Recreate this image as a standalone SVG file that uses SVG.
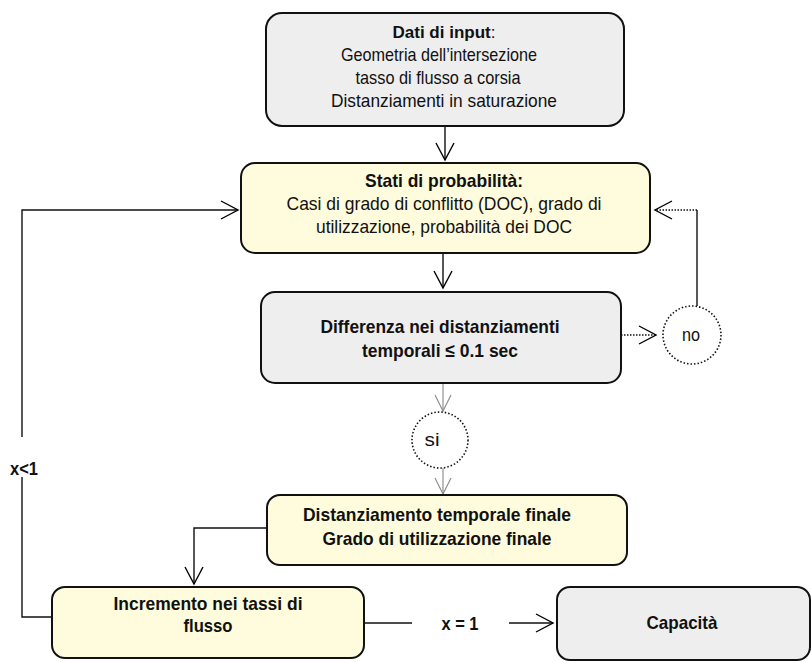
<svg xmlns="http://www.w3.org/2000/svg" width="811" height="662" viewBox="0 0 811 662">
<defs>
<marker id="ah" viewBox="0 0 20 20" refX="18" refY="10" markerWidth="20" markerHeight="20" markerUnits="userSpaceOnUse" orient="auto">
<path d="M1,1 L18,10 L1,19" fill="none" stroke="#000" stroke-width="1.4"/>
</marker>
<marker id="ahg" viewBox="0 0 20 20" refX="18" refY="10" markerWidth="20" markerHeight="20" markerUnits="userSpaceOnUse" orient="auto">
<path d="M2,2 L18,10 L2,18" fill="none" stroke="#888" stroke-width="1.1"/>
</marker>
</defs>
<style>
.box{stroke:#111;stroke-width:2}
.grey{fill:#eeeeee}
.yel{fill:#fefcdc}
text{font-family:"Liberation Sans",Arial,sans-serif;font-size:19px;fill:#111;text-anchor:middle}
.b{font-weight:bold}
.ln{fill:none;stroke:#111;stroke-width:1.4}
.gl{fill:none;stroke:#888;stroke-width:1.1}
.dt{fill:none;stroke:#111;stroke-width:1.6;stroke-dasharray:1.5 1.5}
.circ{fill:#fff;stroke:#111;stroke-width:1.6;stroke-dasharray:1.5 2}
</style>
<g id="connectors">
<path class="ln" d="M445,126 V160" marker-end="url(#ah)"/>
<path class="ln" d="M443,253 V288" marker-end="url(#ah)"/>
<path class="gl" d="M443,383 V411" marker-end="url(#ahg)"/>
<path class="gl" d="M443,468 V494" marker-end="url(#ahg)"/>
<path class="dt" d="M621,335 H656" marker-end="url(#ah)"/>
<path class="ln" d="M697,306 V210" stroke="#444"/>
<path class="dt" d="M697,210 H655" marker-end="url(#ah)"/>
<path class="ln" d="M267,528 H194 V584" marker-end="url(#ah)"/>
<path class="ln" d="M52,617 H22 V477"/>
<path class="ln" d="M22,437 V210 H238" marker-end="url(#ah)"/>
<path class="ln" d="M364,623 H412"/>
<path class="ln" d="M509,623 H553" marker-end="url(#ah)"/>
<text class="b" x="24" y="475" textLength="28" lengthAdjust="spacingAndGlyphs">x&lt;1</text>
<text class="b" x="460" y="630" textLength="37" lengthAdjust="spacingAndGlyphs">x = 1</text>
</g>
<g id="input">
<rect class="box grey" x="266" y="13" width="358" height="113" rx="16"/>
<text x="444" y="38" style="font-size:17px"><tspan class="b">Dati di input</tspan>:</text>
<text x="439" y="61" textLength="196" lengthAdjust="spacingAndGlyphs">Geometria dell’intersezione</text>
<text x="438" y="84" textLength="165" lengthAdjust="spacingAndGlyphs">tasso di flusso a corsia</text>
<text x="444" y="107" textLength="226" lengthAdjust="spacingAndGlyphs">Distanziamenti in saturazione</text>
</g>
<g id="stati">
<rect class="box yel" x="241" y="163" width="409" height="90" rx="14"/>
<text class="b" x="444" y="187" textLength="158" lengthAdjust="spacingAndGlyphs">Stati di probabilità:</text>
<text x="444" y="210" textLength="315" lengthAdjust="spacingAndGlyphs">Casi di grado di conflitto (DOC), grado di</text>
<text x="444" y="233" textLength="256" lengthAdjust="spacingAndGlyphs">utilizzazione, probabilità dei DOC</text>
</g>
<g id="differenza">
<rect class="box grey" x="261" y="292" width="360" height="91" rx="14"/>
<text class="b" x="440" y="333" textLength="239" lengthAdjust="spacingAndGlyphs">Differenza nei distanziamenti</text>
<text class="b" x="440" y="357" textLength="156" lengthAdjust="spacingAndGlyphs">temporali ≤ 0.1 sec</text>
</g>
<g id="no">
<circle class="circ" cx="692" cy="335" r="29"/>
<text x="691" y="341" textLength="18" lengthAdjust="spacingAndGlyphs">no</text>
</g>
<g id="si">
<circle class="circ" cx="440" cy="440" r="28"/>
<text x="432" y="446" textLength="15" lengthAdjust="spacingAndGlyphs">si</text>
</g>
<g id="finale">
<rect class="box yel" x="267" y="495" width="360" height="70" rx="13"/>
<text class="b" x="437" y="521" textLength="268" lengthAdjust="spacingAndGlyphs">Distanziamento temporale finale</text>
<text class="b" x="437" y="545" textLength="229" lengthAdjust="spacingAndGlyphs">Grado di utilizzazione finale</text>
</g>
<g id="incremento">
<rect class="box yel" x="52" y="587" width="312" height="71" rx="13"/>
<text class="b" x="208" y="610" textLength="189" lengthAdjust="spacingAndGlyphs">Incremento nei tassi di</text>
<text class="b" x="208" y="632" textLength="49" lengthAdjust="spacingAndGlyphs">flusso</text>
</g>
<g id="capacita">
<rect class="box grey" x="557" y="587" width="253" height="73" rx="13"/>
<text class="b" x="682" y="629" textLength="71" lengthAdjust="spacingAndGlyphs">Capacità</text>
</g>
</svg>
